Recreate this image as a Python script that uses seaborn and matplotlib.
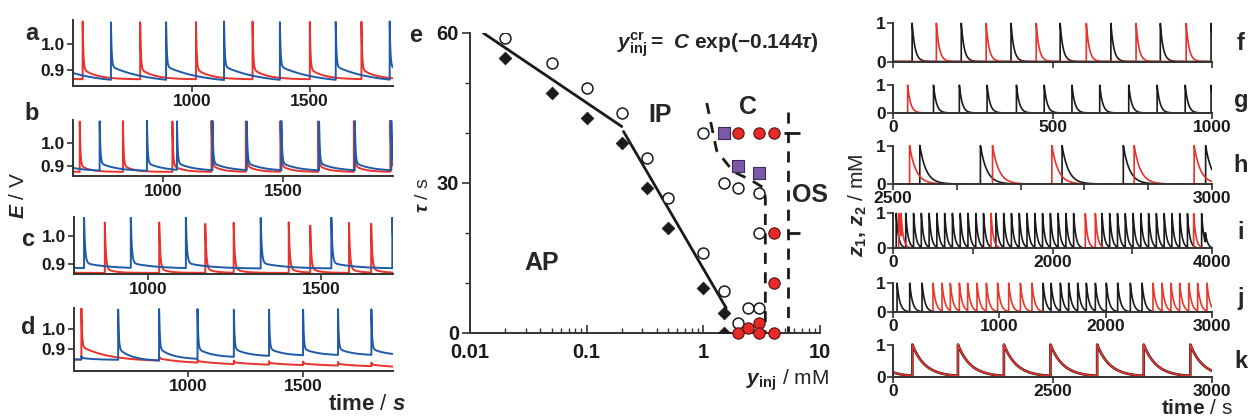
import numpy as np
import matplotlib
matplotlib.use('Agg')
import matplotlib.pyplot as plt
import seaborn as sns

# ---------------- data ----------------
# panels a-d: spike times (s) of the two electrode potentials
a_red_t = [300, 537, 781, 1018, 1258, 1501, 1720]
a_blue_t = [420, 657, 891, 1137, 1374, 1611, 1840]
b_red_t = [470, 653, 833, 1039, 1202, 1345, 1489, 1646, 1795, 1947]
b_blue_t = [560, 736, 933, 1058, 1206, 1349, 1493, 1650, 1799, 1951]
c_blue_t = [650, 815, 950, 1109, 1325, 1529, 1705]
c_red_t = [700, 875, 1032, 1165, 1247, 1406, 1468, 1580, 1644]
c_red_peak = [1.05, 1.05, 1.05, 1.045, 1.05, 1.05, 1.04, 1.05, 1.045]
d_blue_t = [536, 696, 874, 1041, 1199, 1352, 1500, 1652, 1797]
d_blue_peak = [0.866, 1.1, 1.1, 1.1, 1.1, 1.1, 1.1, 1.1, 1.1]
d_blue_plat = [0.858, 0.905, 0.905, 0.905, 0.905, 0.905, 0.905, 0.905, 0.905]
d_blue_base = [0.848, 0.842, 0.85, 0.86, 0.865, 0.868, 0.87, 0.87, 0.87]
d_red_t = [536, 874, 1041, 1199, 1352, 1500, 1652, 1797]
d_red_peak = [1.11, 0.865, 0.85, 0.845, 0.842, 0.84, 0.838, 0.835]
d_red_plat = [0.915, 0.855, 0.842, 0.836, 0.833, 0.83, 0.828, 0.825]
d_red_base = [0.84, 0.828, 0.822, 0.82, 0.818, 0.816, 0.812, 0.806]

# panel e: phase diagram
diam_x = [0.02, 0.05, 0.1, 0.2, 0.33, 0.5, 1.0, 1.5, 1.5]
diam_y = [55, 48, 43, 38, 29, 21, 9, 4, 0]
open_x = [0.02, 0.05, 0.1, 0.2, 0.33, 0.5, 1.0, 1.5, 1.0, 1.5, 2.0, 3.0, 3.0, 2.0, 2.4, 3.0]
open_y = [59, 54, 49, 44, 35, 27, 16, 8.5, 40, 30, 29, 28, 20, 2, 5, 5]
sq_x = [1.5, 2.0, 3.0]
sq_y = [40, 33.5, 32]
red_x = [2.0, 3.0, 4.0, 4.0, 4.0, 2.0, 2.4, 3.0, 3.0, 4.0]
red_y = [40, 40, 40, 20, 10, 0, 1, 2, 0, 0]
fit1_x, fit1_y = [0.013, 0.2], [60, 41.3]
fit2_x, fit2_y = [0.207, 1.57], [40.3, 5]
bc_x = [1.07, 1.3, 1.8, 2.6, 3.3, 3.4, 3.4]
bc_y = [46, 36.5, 32.3, 30.5, 29, 27, 0]
os_x, os_y = [5.3, 5.3], [44.3, 0]
cap_y = [40, 20, 0]
cap_x0, cap_x1 = [4.9, 5.3, 5.2], [6.7, 6.7, 6.7]

# panels f-k: spike times of z1 (black) and z2 (red)
f_black = [60, 214, 370, 524, 683, 838, 997]
f_red = [-40, 136, 292, 449, 606, 762, 919]
g_red = [46]
g_black = [127, 208, 295, 387, 474, 561, 648, 739, 828, 916, 997]
h_red = [2526, 2656, 2749, 2878, 2972]
h_black = [2542, 2637, 2765, 2861, 2990]
i_black = [40, 160, 258, 355, 453, 550, 648, 745, 843, 940, 1038, 1135,
           1290, 1388, 1485, 1583, 1680, 1778, 1875, 1973, 2070, 2168, 2265,
           2620, 2717, 2815, 2912, 3010, 3107, 3205, 3302, 3400, 3497, 3595, 3692,
           3870, 3917]
i_black_peak = [1.0] * 36 + [0.45]
i_red = [71, 100, 1229, 2411, 2537, 3770]
j_black = [38, 157, 273, 1411, 1486, 1574, 1652, 1737, 1818, 1903, 2006, 2113, 2232, 2342]
j_red = [376, 461, 539, 624, 702, 790, 878, 984, 1088, 1198, 1307,
         2445, 2530, 2614, 2696, 2781, 2865, 2953]
k_spk = [-400, 303, 1018, 1738, 2468, 3200, 3930, 4660]
k_ticklabels = ['0', '2500', '3000']

# ---------------- style ----------------
sns.set_style('ticks')
plt.rcParams['font.family'] = ['Liberation Sans', 'DejaVu Sans']
plt.rcParams['font.weight'] = 'bold'
plt.rcParams['mathtext.fontset'] = 'custom'
plt.rcParams['mathtext.rm'] = 'Liberation Sans'
plt.rcParams['mathtext.it'] = 'Liberation Sans:italic'
plt.rcParams['mathtext.bf'] = 'Liberation Sans:bold'
plt.rcParams['mathtext.bfit'] = 'Liberation Sans:italic:bold'
plt.rcParams['axes.edgecolor'] = '#333333'
plt.rcParams['axes.linewidth'] = 1.4
plt.rcParams['xtick.color'] = '#333333'
plt.rcParams['ytick.color'] = '#333333'
plt.rcParams['xtick.labelcolor'] = '#1a1a1a'
plt.rcParams['ytick.labelcolor'] = '#1a1a1a'

RED = '#e8322b'
BLUE = '#1f5aa8'
BLK = '#1a1a1a'
W, H = 1248, 417

fig = plt.figure(figsize=(W / 100, H / 100), dpi=100)


def px_axes(l, t, r, b):
    return fig.add_axes([l / W, 1 - b / H, (r - l) / W, (b - t) / H])


def ftext(x, y, s, **kw):
    fig.text(x / W, 1 - y / H, s, ha='center', va='center', **kw)


def train(t, times, peak, plat, base, tau_f, tau_s, start=None):
    times = np.asarray(times, float)
    n = len(times)
    peak, plat, base = (np.broadcast_to(np.asarray(v, float), (n,)) for v in (peak, plat, base))
    idx = np.searchsorted(times, t, side='right') - 1
    y = np.full_like(t, base[0] if start is None else start)
    m = idx >= 0
    k = idx[m]
    dt = t[m] - times[k]
    y[m] = base[k] + (plat[k] - base[k]) * np.exp(-dt / tau_s) + (peak[k] - plat[k]) * np.exp(-dt / tau_f)
    return y


def line(ax, x, y, color, lw=1.3):
    sns.lineplot(x=x, y=y, ax=ax, color=color, lw=lw, estimator=None, sort=False)


# ---------------- panels a-d ----------------
left = [
    ('a', (73, 20, 393, 86), (496, 1854), (0.84, 1.09)),
    ('b', (73, 120, 393, 176), (625, 1958), (0.857, 1.103)),
    ('c', (74, 217, 393, 274), (786, 1707), (0.865, 1.069)),
    ('d', (74, 308, 393, 371), (504, 1891), (0.793, 1.105)),
]
left_traces = {
    'a': [(a_red_t, 1.085, 0.905, 0.865, 3, 60, None, RED),
          (a_blue_t, 1.085, 0.915, 0.85, 3, 150, None, BLUE)],
    'b': [(b_red_t, 1.1, 0.905, 0.875, 3, 40, None, RED),
          (b_blue_t, 1.1, 0.915, 0.878, 3, 70, None, BLUE)],
    'c': [(c_red_t, c_red_peak, 0.885, 0.869, 3, 25, None, RED),
          (c_blue_t, 1.068, 0.905, 0.884, 3, 70, None, BLUE)],
    'd': [(d_red_t, d_red_peak, d_red_plat, d_red_base, 3, 120, 0.85, RED),
          (d_blue_t, d_blue_peak, d_blue_plat, d_blue_base, 3, 60, 0.85, BLUE)],
}
for name, box, xl, yl in left:
    ax = px_axes(*box)
    t = np.linspace(xl[0], xl[1], 20000)
    for times, pk, pl, bs, tf, ts, st, col in left_traces[name]:
        line(ax, t, train(t, times, pk, pl, bs, tf, ts, st), col, lw=1.4)
    ax.set_xlim(*xl)
    ax.set_ylim(*yl)
    ax.set_xticks([1000, 1500])
    ax.set_yticks([0.9, 1.0])
    ax.set_yticklabels(['0.9', '1.0'])
    ax.set_xlabel('')
    ax.set_ylabel('')
    ax.tick_params(labelsize=12.5, length=4, width=1.2, pad=2)
    sns.despine(ax=ax)

for s, x, y in [('a', 32, 33), ('b', 32, 113), ('c', 28, 240), ('d', 28, 328)]:
    ftext(x, y, s, fontsize=17, fontweight='bold')
ftext(18, 195, r'$\mathbfit{E}$ / V', fontsize=15, rotation=90, fontweight='normal')
ftext(367, 405, r'$\mathbf{time}$ / $\mathit{s}$', fontsize=16, fontweight='normal')

# ---------------- panel e ----------------
ax = px_axes(470, 33, 820, 333)
line(ax, fit1_x, fit1_y, BLK, lw=2)
line(ax, fit2_x, fit2_y, BLK, lw=2)
ax.plot(bc_x, bc_y, color=BLK, lw=2, ls=(0, (4, 3)))
ax.plot(os_x, os_y, color=BLK, lw=2, ls=(0, (4, 3)))
ax.hlines(cap_y, cap_x0, cap_x1, color=BLK, lw=2)
sns.scatterplot(x=diam_x, y=diam_y, ax=ax, marker='D', s=42, color=BLK, edgecolor=BLK, zorder=3)
sns.scatterplot(x=open_x, y=open_y, ax=ax, marker='o', s=62, facecolor='white', edgecolor=BLK, linewidth=1.1, zorder=3)
sns.scatterplot(x=sq_x, y=sq_y, ax=ax, marker='s', s=75, color='#7d58a8', edgecolor='#3b2a5a', linewidth=0.8, zorder=4)
sns.scatterplot(x=red_x, y=red_y, ax=ax, marker='o', s=66, color='#e52a27', edgecolor='#5a1010', linewidth=0.8, zorder=4, clip_on=False)
ax.set_xscale('log')
ax.set_xlim(0.01, 10)
ax.set_ylim(0, 60)
ax.set_xticks([0.01, 0.1, 1, 10])
ax.set_xticklabels(['0.01', '0.1', '1', '10'])
ax.set_yticks([0, 30, 60])
ax.set_yticks(range(0, 61, 10), minor=True)
ax.set_xlabel('')
ax.set_ylabel('')
ax.tick_params(axis='both', labelsize=14.5)
ax.tick_params(axis='x', which='major', direction='in', length=6, width=1.2, pad=7)
ax.tick_params(axis='x', which='minor', direction='in', length=3.5, width=1.0)
ax.tick_params(axis='y', which='major', direction='out', length=6, width=1.2, pad=2)
ax.tick_params(axis='y', which='minor', direction='out', length=3.5, width=1.0)
sns.despine(ax=ax)

ftext(416, 35, 'e', fontsize=17, fontweight='bold')
ftext(542, 263, 'AP', fontsize=18, fontweight='bold')
ftext(660, 115, 'IP', fontsize=18, fontweight='bold')
ftext(748, 107, 'C', fontsize=18, fontweight='bold')
ftext(810, 195, 'OS', fontsize=18, fontweight='bold')
ftext(718, 45, r'$\mathbfit{y}_{\mathbf{inj}}^{\mathbf{cr}}\mathbf{=}\ \mathbfit{C}\ \mathbf{exp(-0.144}\mathbfit{\tau}\mathbf{)}$',
      fontsize=15)
ftext(787, 380, r'$\mathbfit{y}_{\mathbf{inj}}$ / mM', fontsize=15, fontweight='normal')
ftext(424, 195, r'$\mathbfit{\tau}$ / s', fontsize=14, rotation=90, fontweight='normal')

# ---------------- panels f-k ----------------
right = [
    ('f', (893, 21.7, 1212, 61.5), (0, 1000), [0, 500, 1000], [], 9,
     [(f_black, 1.0, BLK), (f_red, 1.0, RED)]),
    ('g', (893, 84, 1212, 113), (0, 1000), [0, 500, 1000], ['0', '500', '1000'], 9,
     [(g_black, 1.0, BLK), (g_red, 1.0, RED)]),
    ('h', (893, 144, 1212, 184), (2500, 3000), list(range(2500, 3001, 100)),
     ['2500', '', '', '', '', '3000'], 10,
     [(h_black, 1.0, BLK), (h_red, 1.0, RED)]),
    ('i', (893, 212, 1212, 248.3), (0, 4000), [0, 1000, 2000, 3000, 4000],
     ['0', '', '2000', '', '4000'], 28,
     [(i_black, i_black_peak, BLK), (i_red, 1.0, RED)]),
    ('j', (893, 282, 1212, 312), (0, 3000), [0, 1000, 2000, 3000],
     ['0', '1000', '2000', '3000'], 26,
     [(j_black, 1.0, BLK), (j_red, 1.0, '#e63a2a')]),
    ('k', (893, 343.3, 1212, 376.7), (0, 5000), [0, 2500, 5000], k_ticklabels, 200,
     [(k_spk, 1.0, BLK), (k_spk, 1.0, RED)]),
]
for name, box, xl, xt, xtl, tau, traces in right:
    ax = px_axes(*box)
    t = np.linspace(xl[0], xl[1], 20000)
    for j, (times, pk, col) in enumerate(traces):
        lw = 1.9 if (name == 'k' and j == 0) else 1.2
        line(ax, t, train(t, times, pk, pk, 0.0, 1.0, tau, 0.0), col, lw=lw)
    ax.set_xlim(*xl)
    ax.set_ylim(0, 1.04)
    ax.spines['left'].set_bounds(0, 1)
    ax.set_xticks(xt)
    ax.set_xticklabels(xtl)
    ax.set_yticks([0, 1])
    ax.set_yticklabels(['0', '1'])
    ax.set_xlabel('')
    ax.set_ylabel('')
    ax.tick_params(labelsize=12.5, length=4, width=1.2, pad=1)
    sns.despine(ax=ax)
    cy = (box[1] + box[3]) / 2
    ftext(1241, cy + 2, name, fontsize=17, fontweight='bold')

ftext(858, 205, r'$\mathbfit{z}_{\mathbf{1}}\mathbf{,}\ \mathbfit{z}_{\mathbf{2}}$ / mM',
      fontsize=15, rotation=90, fontweight='normal')
ftext(1197, 408, r'$\mathbf{time}$ / s', fontsize=15, fontweight='normal')

fig.savefig('out.png', dpi=100)
